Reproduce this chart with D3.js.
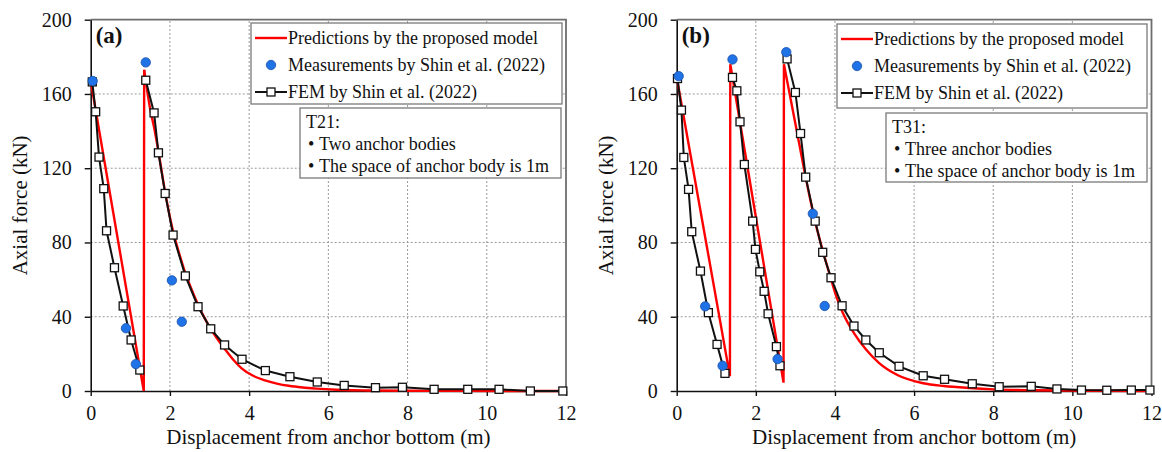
<!DOCTYPE html>
<html><head><meta charset="utf-8">
<script src="https://cdn.jsdelivr.net/npm/d3@7"></script>
<style>
body{margin:0;background:#fff}
svg{display:block}
text{font-family:"Liberation Serif","Times New Roman",serif;fill:#111}
</style>
</head><body>
<svg id="chart" width="1162" height="452"></svg>
<script>
// ---------- data ----------
const xTicks = [0, 2, 4, 6, 8, 10, 12];
const yTicks = [0, 40, 80, 120, 160, 200];
const xTitle = "Displacement from anchor bottom (m)";
const yTitle = "Axial force (kN)";
const legendLabels = ["Predictions by the proposed model", "Measurements by Shin et al. (2022)", "FEM by Shin et al. (2022)"];

// Panel (a) — T21
const predA_lin = [[0,167],[1.34,0],[1.35,173]];
const predA_dec = [[1.35,173],[1.5,152],[1.6,142],[1.71,129],[1.88,107],[2.08,86],[2.25,73],[2.39,63.5],[2.55,54.5],[2.71,46.5],[2.87,39.5],[3.03,33.4],[3.2,28],[3.39,22.5],[3.6,16.8],[3.81,12.2],[4.1,8.2],[4.4,5.7],[4.7,4],[5.0,2.8],[5.35,1.9],[5.7,1.3],[6.2,0.7],[7,0.3],[8,0.1],[9,0.05],[12,0]];
const measA = [[0.05,167],[1.39,177],[0.89,33.8],[1.14,14.5],[2.05,59.6],[2.30,37.3]];
const femA1 = [[0.04,166.5],[0.125,150.4],[0.21,126],[0.33,109],[0.40,86.3],[0.60,66.4],[0.82,45.8],[1.02,27.5],[1.24,11.3]];
const femA2 = [[1.39,167.4],[1.60,149.8],[1.71,128.3],[1.88,106.4],[2.08,84],[2.39,62],[2.71,45.4],[3.03,33.5],[3.38,24.8],[3.82,17.1],[4.41,11],[5.03,7.7],[5.72,4.85],[6.40,3.0],[7.19,1.8],[7.87,2.0],[8.67,0.9],[9.52,0.9],[10.31,0.9],[11.10,0],[11.92,0]];
const noteA = ["T21:", "Two anchor bodies", "The space of anchor body is 1m"];

// Panel (b) — T31
const predB_lin = [[0,169],[1.345,8],[1.355,176],[2.70,4.5],[2.71,176],[3.0,144],[3.26,115]];
const predB_dec = [[3.26,115],[3.49,92],[3.7,75],[3.89,61],[4.05,50],[4.2,42],[4.48,31.2],[4.78,22.5],[5.11,15.2],[5.59,8.5],[6.23,4.2],[6.75,2.7],[7.41,1.6],[8,0.9],[9,0.4],[10,0.2],[12,0]];
const measB = [[0.05,169.6],[1.41,178.6],[2.77,182.5],[3.44,95.5],[0.72,45.6],[1.16,13.6],[2.55,17.2],[3.74,45.8]];
const femB1 = [[0.02,168.3],[0.12,151.3],[0.18,125.8],[0.30,108.6],[0.38,85.8],[0.60,64.6],[0.80,42.2],[1.02,25.1],[1.22,9.5]];
const femB2 = [[1.41,168.9],[1.52,161.7],[1.60,145],[1.71,122],[1.92,91.5],[1.99,76.3],[2.10,64.2],[2.21,53.7],[2.31,41.6],[2.52,23.9],[2.61,13.6]];
const femB3 = [[2.79,178.9],[3.00,160.8],[3.13,138.7],[3.26,115.2],[3.50,91.5],[3.69,74.7],[3.90,61],[4.18,45.9],[4.48,35],[4.78,27.5],[5.12,20.6],[5.62,13.3],[6.23,8.2],[6.77,6.3],[7.47,3.9],[8.15,2.3],[8.96,2.5],[9.61,1.1],[10.23,0.5],[10.87,0.4],[11.49,0.5],[11.96,0.5]];
const noteB = ["T31:", "Three anchor bodies", "The space of anchor body is 1m"];

// ---------- drawing ----------
const svg = d3.select("#chart");
const RED = "#ff0000", BLUE = "#1f73e6", BLUE_S = "#1a4fa8";

function panel(o) {
  const g = svg.append("g");
  const x = d3.scaleLinear().domain([0, 12]).range([o.x0, o.x1]);
  const y = d3.scaleLinear().domain([0, 200]).range([391, 19.7]);

  // grid
  g.selectAll(".gx").data(xTicks.slice(1, -1)).join("line")
    .attr("x1", d => x(d)).attr("x2", d => x(d)).attr("y1", y(0)).attr("y2", y(200))
    .attr("stroke", "#9a9a9a").attr("stroke-width", 1).attr("stroke-dasharray", "2,2");
  g.selectAll(".gy").data(yTicks.slice(1, -1)).join("line")
    .attr("x1", x(0)).attr("x2", x(12)).attr("y1", d => y(d)).attr("y2", d => y(d))
    .attr("stroke", "#9a9a9a").attr("stroke-width", 1).attr("stroke-dasharray", "2,2");
  // top/right frame
  g.append("path").attr("d", `M${x(0)},${y(200)}H${x(12)}V${y(0)}`)
    .attr("fill", "none").attr("stroke", "#6e6e6e").attr("stroke-width", 1.8);

  // axes
  const ax = g.append("g").attr("transform", `translate(0,${y(0)})`)
    .call(d3.axisBottom(x).tickValues(xTicks).tickSize(5).tickSizeOuter(0).tickPadding(10));
  const ay = g.append("g").attr("transform", `translate(${x(0)},0)`)
    .call(d3.axisLeft(y).tickValues(yTicks).tickSize(6).tickSizeOuter(0).tickPadding(13));
  [ax, ay].forEach(a => {
    a.attr("font-family", null);
    a.select(".domain").attr("stroke", "#111").attr("stroke-width", 1.6);
    a.selectAll(".tick line").attr("stroke", "#111").attr("stroke-width", 1.4);
    a.selectAll(".tick text").attr("font-family", "Liberation Serif").attr("font-size", 20).attr("fill", "#111");
  });

  // titles
  g.append("text").attr("x", (o.x0 + o.x1) / 2).attr("y", 444).attr("text-anchor", "middle")
    .attr("font-size", 21).text(xTitle);
  g.append("text").attr("transform", `translate(${o.x0 - 71},${(y(0) + y(200)) / 2}) rotate(-90)`)
    .attr("text-anchor", "middle").attr("dy", "0.35em").attr("font-size", 21).text(yTitle);

  // panel label
  g.append("text").attr("x", o.x0 + 5).attr("y", 43).attr("font-size", 23).attr("font-weight", "bold")
    .attr("fill", "#333").text(o.label);

  const line = d3.line().x(d => x(d[0])).y(d => y(d[1]));
  const smooth = d3.line().x(d => x(d[0])).y(d => y(d[1])).curve(d3.curveMonotoneX);
  // prediction
  g.append("path").datum(o.predLin).attr("d", line).attr("fill", "none")
    .attr("stroke", RED).attr("stroke-width", 2.4).attr("stroke-linejoin", "miter");
  g.append("path").datum(o.predDec).attr("d", smooth).attr("fill", "none")
    .attr("stroke", RED).attr("stroke-width", 2.4);
  // FEM lines
  o.fem.forEach(seg => {
    g.append("path").datum(seg).attr("d", line).attr("fill", "none")
      .attr("stroke", "#111").attr("stroke-width", 2);
  });
  o.fem.forEach(seg => {
    g.selectAll(null).data(seg).join("rect")
      .attr("x", d => x(d[0]) - 4).attr("y", d => y(d[1]) - 4).attr("width", 8).attr("height", 8)
      .attr("fill", "#fff").attr("stroke", "#111").attr("stroke-width", 1.3);
  });
  // measurements
  g.selectAll(null).data(o.meas).join("circle")
    .attr("cx", d => x(d[0])).attr("cy", d => y(d[1])).attr("r", 4.7)
    .attr("fill", BLUE).attr("stroke", BLUE_S).attr("stroke-width", 0.8);

  // legend
  const L = o.leg;
  g.append("rect").attr("x", L.x).attr("y", L.y).attr("width", L.w).attr("height", L.h)
    .attr("fill", "#fff").attr("stroke", "#7a7a7a").attr("stroke-width", 1.3);
  const sx0 = L.x + 4, sx1 = L.x + 36, sxc = (sx0 + sx1) / 2;
  const rows = [L.y + 15, L.y + 42, L.y + 69];
  g.append("line").attr("x1", sx0).attr("x2", sx1).attr("y1", rows[0]).attr("y2", rows[0])
    .attr("stroke", RED).attr("stroke-width", 2.4);
  g.append("circle").attr("cx", sxc).attr("cy", rows[1]).attr("r", 4.7)
    .attr("fill", BLUE).attr("stroke", BLUE_S).attr("stroke-width", 0.8);
  g.append("line").attr("x1", sx0).attr("x2", sx1).attr("y1", rows[2]).attr("y2", rows[2])
    .attr("stroke", "#111").attr("stroke-width", 2);
  g.append("rect").attr("x", sxc - 4).attr("y", rows[2] - 4).attr("width", 8).attr("height", 8)
    .attr("fill", "#fff").attr("stroke", "#111").attr("stroke-width", 1.3);
  legendLabels.forEach((t, i) => {
    g.append("text").attr("x", L.x + 37).attr("y", rows[i] + 6).attr("font-size", 18).text(t);
  });

  // note box
  const N = o.note;
  g.append("rect").attr("x", N.x).attr("y", N.y).attr("width", N.w).attr("height", N.h)
    .attr("fill", "#fff").attr("stroke", "#7a7a7a").attr("stroke-width", 1.3);
  g.append("text").attr("x", N.x + 6).attr("y", N.y + 20).attr("font-size", 18).text(o.noteText[0]);
  o.noteText.slice(1).forEach((t, i) => {
    const by = N.y + 42 + i * 22;
    g.append("text").attr("x", N.x + 8).attr("y", by).attr("font-size", 18).text("\u2022");
    g.append("text").attr("x", N.x + 19).attr("y", by).attr("font-size", 18).text(t);
  });
}

panel({ x0: 90.7, x1: 566, label: "(a)", predLin: predA_lin, predDec: predA_dec, meas: measA, fem: [femA1, femA2],
  leg: { x: 251, y: 23, w: 311, h: 81 }, note: { x: 300, y: 108, w: 261, h: 70 }, noteText: noteA });
panel({ x0: 676.7, x1: 1151.5, label: "(b)", predLin: predB_lin, predDec: predB_dec, meas: measB, fem: [femB1, femB2, femB3],
  leg: { x: 837, y: 24, w: 310, h: 84 }, note: { x: 886, y: 113, w: 261, h: 69 }, noteText: noteB });
</script>
</body></html>
